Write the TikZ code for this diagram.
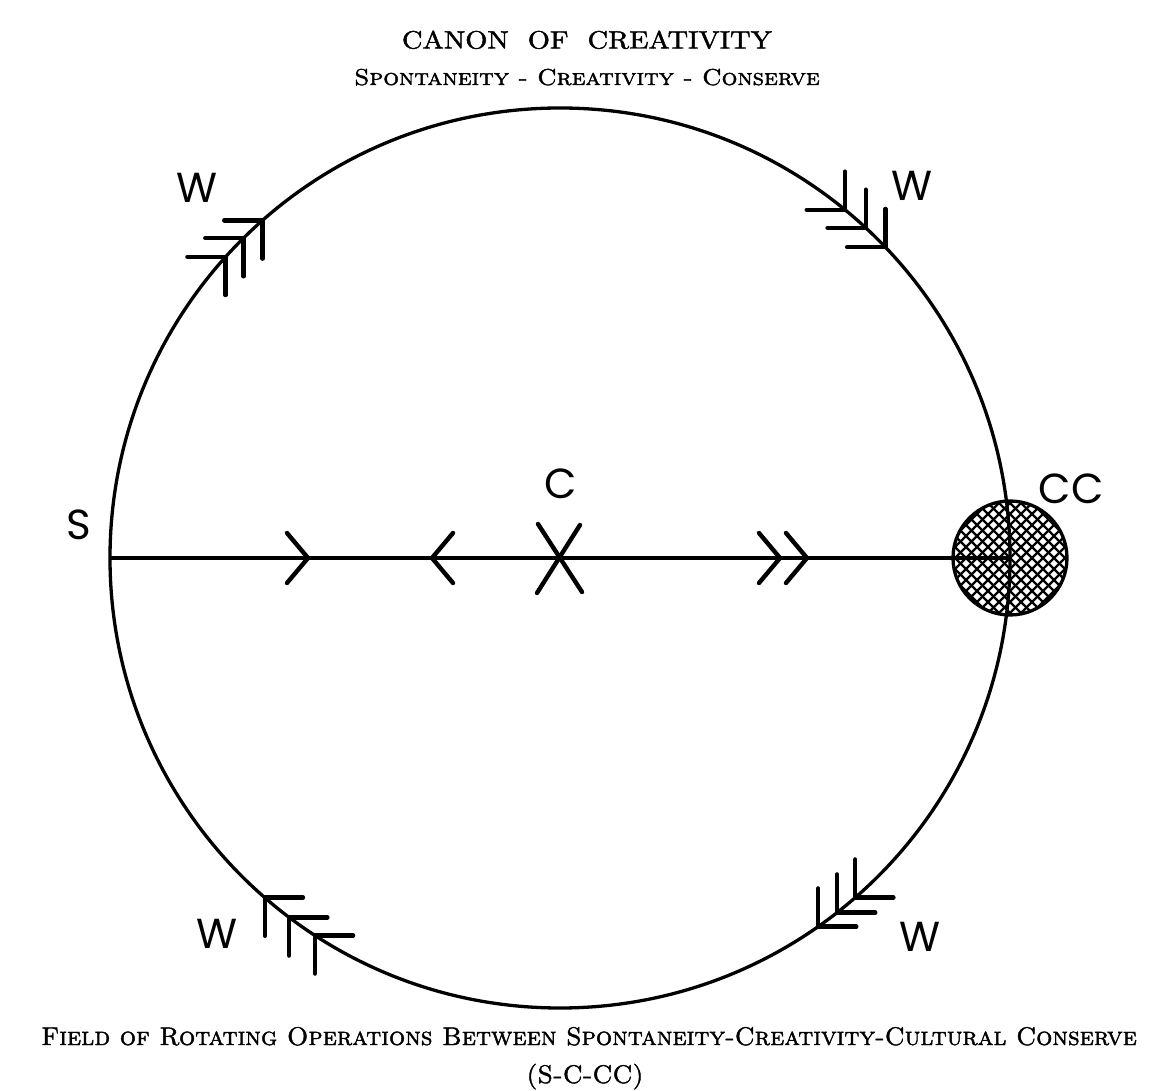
\documentclass[tikz,border=0pt]{standalone}
\usepackage{fontspec}
\newfontfamily\geofont{Poppins}
\newfontfamily\headfont{lmroman10-regular.otf}[FakeBold=1.6]
\newfontfamily\capsfont{lmromancaps10-regular.otf}[FakeBold=1.6]
\usetikzlibrary{positioning}

\begin{document}
\begin{tikzpicture}[
  x=1pt, y=1pt,
  ring/.style={line width=3.3pt},
  barb/.style={line width=4.4pt, line cap=round, line join=round},
  hatch/.style={line width=2.2pt},
  lbl/.style={font=\geofont\fontsize{42}{42}\selectfont, inner sep=0pt},
  head/.style={font=\headfont\fontsize{25}{30}\selectfont, inner sep=0pt, anchor=base},
  sub/.style={font=\capsfont\fontsize{23}{28}\selectfont, inner sep=0pt, anchor=base},
  capt/.style={font=\capsfont\fontsize{25.5}{28}\selectfont, inner sep=0pt, anchor=base},
  fwd/.pic={\draw[barb] (-21,25) -- (0,0) -- (-21,-25);},
  wing/.pic={\draw[barb] (-27,27) -- (0,0) -- (-27,-27);}
]
\useasboundingbox (-560,-533) rectangle (614,558);
\coordinate (o) at (0,0);
\coordinate (s) at (-450,0);
\coordinate (ccc) at (450,0);
\begin{scope}
  \clip (ccc) circle (57);
  \foreach \d in {-132,-121,...,132}{
    \draw[hatch] ({\d+380},-70) -- ({\d+520},70);
    \draw[hatch] ({\d+380},70) -- ({\d+520},-70);
  }
\end{scope}
\node[circle, draw, ring, minimum size=114pt, inner sep=0pt] (cc) at (ccc) {};
\draw[ring] (o) circle (450);
\draw[ring] (s) -- (cc.center);

\pic at (-252,0) {fwd};
\pic[rotate=180] at (-128,0) {fwd};
\draw[barb] (-22,34) -- (22,-34);
\draw[barb] (20,33) -- (-23,-35);
\pic at (220,0) {fwd};
\pic at (247,0) {fwd};

\foreach \a in {138,134.7,131.4} \pic[rotate=45] at (\a:450) {wing};
\foreach \a in {50.7,47.2,43.7} \pic[rotate=-45] at (\a:450) {wing};
\foreach \a in {-49,-52,-55} \pic[rotate=-135] at (\a:450) {wing};
\foreach \a in {229,233,237} \pic[rotate=135] at (\a:450) {wing};

\node[lbl] (w1) at (-363,370) {W};
\node[lbl] (w2) at (352,372) {W};
\node[lbl] (w3) at (-343,-376) {W};
\node[lbl] (w4) at (360,-379) {W};
\node[lbl] (sl) at (-481,33) {S};
\node[lbl] (cl) at (1,74) {C};
\node[lbl] (ccl) at (511,69) {CC};

\node[head] (title) at (27,509.5) {\scalebox{1.14}[1]{CANON\ \ OF\ \ CREATIVITY}};
\node[sub] (subtitle) at (27,473) {\scalebox{1.08}[1]{Spontaneity - Creativity - Conserve}};
\node[capt] (caption) at (29,-487) {Field of Rotating Operations Between Spontaneity-Creativity-Cultural Conserve};
\node[capt] (abbr) at (25,-525) {(S-C-CC)};
\end{tikzpicture}
\end{document}
